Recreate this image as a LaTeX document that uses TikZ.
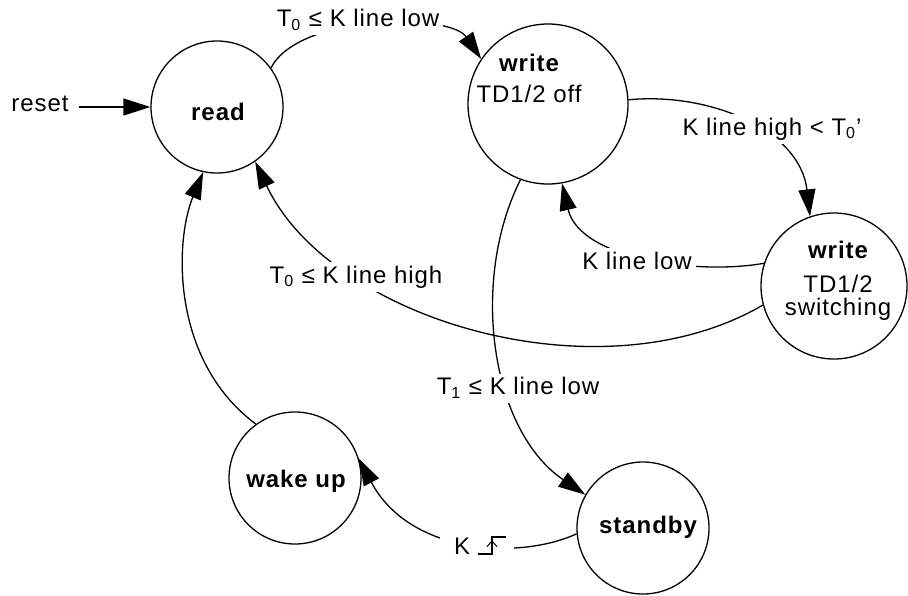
\documentclass[tikz,border=0pt]{standalone}
\usepackage{fontspec}
\setmainfont{Liberation Sans}[LetterSpace=4]
\usetikzlibrary{arrows.meta}
\begin{document}
\begin{tikzpicture}[x=0.5pt,y=-0.5pt,
  state/.style={circle,draw,line width=0.65pt,inner sep=0pt},
  txt/.style={inner sep=1pt,font=\fontsize{12}{11.5}\selectfont},
  btxt/.style={inner sep=1pt,font=\fontsize{12}{11.5}\selectfont\bfseries},
  lbl/.style={txt,fill=white,inner sep=2pt},
  edge/.style={line width=0.65pt,-{Triangle[length=13.5pt,width=8.5pt]}},
  plain/.style={line width=0.65pt}]
\useasboundingbox (0,0) rectangle (908,595);
% states
\node[state,minimum size=66pt] (read) at (217,107) {};
\node[state,minimum size=80pt] (write) at (548,104) {};
\node[state,minimum size=73pt] (sw) at (834,286) {};
\node[state,minimum size=66pt] (standby) at (643,528) {};
\node[state,minimum size=66pt] (wake) at (295,478) {};
% state texts
\node[btxt] (readt) at (218,112) {read};
\node[btxt] (writet) at (529,63) {write};
\node[txt] (writet2) at (529,94) {TD1/2 off};
\node[btxt] (swt) at (838,250) {write};
\node[txt,align=center] (swt2) at (838,298) {TD1/2\\switching};
\node[btxt] (standbyt) at (648,527) {standby};
\node[btxt] (waket) at (296,481) {wake up};
% reset
\node[txt] (reset) at (40,104) {reset};
\draw[edge,shorten <=4pt] (reset.east |- read) -- (read.west);
% read -> write
\draw[edge] (read.36) .. controls (300,13) and (450,13) .. (write.146);
\node[lbl] (l1) at (358,20) {T\textsubscript{0} ≤ K line low};
% write -> switching
\draw[edge] (write.3) .. controls (710,92) and (800,130) .. (sw.109);
\node[lbl] (l2) at (772,129) {K line high < T\textsubscript{0}'};
% switching -> write
\draw[edge] (sw.162) .. controls (700,275) and (580,260) .. (write.-80);
\node[lbl] (l3) at (637,261) {K line low};
% switching -> read
\draw[edge] (sw.195) .. controls (600,400) and (330,320) .. (read.-55);
\node[lbl] (l4) at (356,277) {T\textsubscript{0} ≤ K line high};
% write -> standby
\draw[edge] (write.-110) .. controls (470,280) and (490,430) .. (standby.150);
\node[lbl] (l5) at (518,388) {T\textsubscript{1} ≤ K line low};
% standby -> wake up
\draw[edge] (standby.185) .. controls (520,560) and (410,555) .. (wake.17);
\node[fill=white,minimum width=37pt,minimum height=12pt,inner sep=0pt] (kgap) at (477,546) {};
\node[txt] (kt) at (462,546) {K};
\coordinate (s0) at (478,554);
\coordinate (s1) at (492,554);
\coordinate (s2) at (492,537);
\coordinate (s3) at (506,537);
\coordinate (s4) at (492,540);
\draw[plain] (s0) -- (s1) -- (s2) -- (s3);
\draw[line width=0.5pt,-{Straight Barb[length=3pt,width=5pt]}] (s1) -- (s4);
% wake up -> read
\draw[edge] (wake.126) .. controls (170,360) and (175,240) .. (read.-102);
\end{tikzpicture}
\end{document}
